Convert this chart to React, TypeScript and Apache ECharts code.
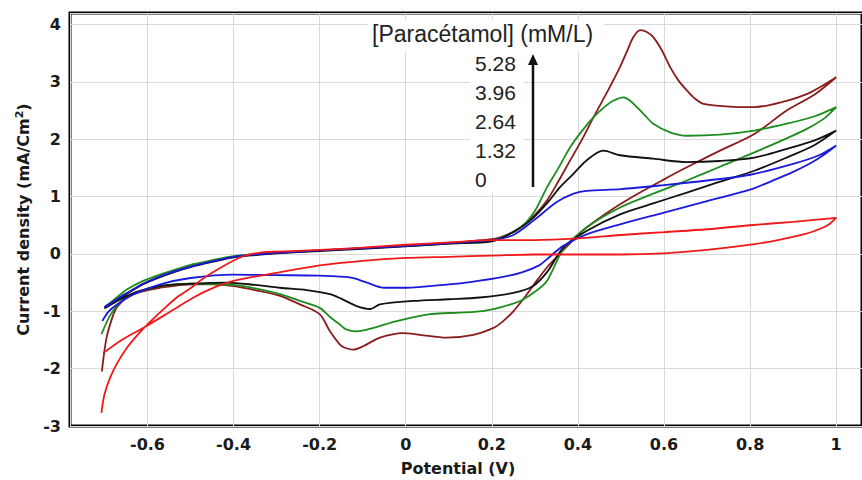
import React, { useEffect, useRef } from "react";
import * as echarts from "echarts";

// Cyclic voltammograms: [potential (V), current density (mA/cm²)], forward scan then reverse scan
const cv0: number[][] = [
  [-0.707, -2.77], [-0.7, -2.45], [-0.687, -2.16], [-0.67, -1.9], [-0.648, -1.64], [-0.625, -1.43],
  [-0.6, -1.23], [-0.565, -0.98], [-0.532, -0.76], [-0.5, -0.6], [-0.478, -0.47], [-0.45, -0.33],
  [-0.416, -0.18], [-0.39, -0.08], [-0.37, -0.02], [-0.33, 0.03], [-0.3, 0.04], [-0.2, 0.07],
  [-0.1, 0.11], [0, 0.16], [0.1, 0.2], [0.2, 0.24], [0.3, 0.24], [0.4, 0.27], [0.5, 0.33],
  [0.6, 0.38], [0.7, 0.43], [0.8, 0.5], [0.9, 0.56], [1.0, 0.63],
  [0.98, 0.5], [0.95, 0.4], [0.924, 0.34], [0.87, 0.25], [0.81, 0.17], [0.7, 0.07], [0.6, 0.01],
  [0.5, -0.01], [0.4, -0.01], [0.3, -0.01], [0.2, -0.03], [0.1, -0.05], [0, -0.07], [-0.1, -0.12],
  [-0.2, -0.2], [-0.3, -0.33], [-0.4, -0.47], [-0.45, -0.6], [-0.493, -0.76], [-0.55, -1.02],
  [-0.61, -1.29], [-0.66, -1.5], [-0.703, -1.73],
];

const cv132: number[][] = [
  [-0.7, -0.93], [-0.685, -0.86], [-0.665, -0.76], [-0.64, -0.65], [-0.61, -0.52], [-0.58, -0.42],
  [-0.54, -0.31], [-0.5, -0.22], [-0.45, -0.13], [-0.4, -0.05], [-0.35, -0.01], [-0.3, 0.02],
  [-0.2, 0.06], [-0.1, 0.1], [0, 0.14], [0.1, 0.19], [0.2, 0.24], [0.25, 0.33], [0.3, 0.6],
  [0.35, 0.9], [0.39, 1.05], [0.42, 1.1], [0.5, 1.13], [0.6, 1.2], [0.7, 1.28], [0.8, 1.38],
  [0.9, 1.57], [0.96, 1.72], [1.0, 1.89],
  [0.97, 1.72], [0.94, 1.58], [0.9, 1.43], [0.85, 1.27], [0.8, 1.12], [0.7, 0.92], [0.6, 0.72],
  [0.5, 0.52], [0.42, 0.34], [0.366, 0.14], [0.33, -0.08], [0.31, -0.2], [0.27, -0.32], [0.22, -0.41],
  [0.15, -0.49], [0.1, -0.53], [0, -0.59], [-0.05, -0.59], [-0.09, -0.5], [-0.13, -0.41],
  [-0.2, -0.38], [-0.3, -0.37], [-0.4, -0.36], [-0.5, -0.42], [-0.57, -0.53], [-0.625, -0.68],
  [-0.665, -0.85], [-0.69, -1.0], [-0.705, -1.17],
];

const cv264: number[][] = [
  [-0.7, -0.93], [-0.685, -0.86], [-0.665, -0.77], [-0.64, -0.66], [-0.61, -0.53], [-0.58, -0.43],
  [-0.54, -0.32], [-0.5, -0.23], [-0.45, -0.14], [-0.4, -0.06], [-0.35, -0.02], [-0.3, 0.01],
  [-0.2, 0.05], [-0.1, 0.09], [0, 0.13], [0.1, 0.18], [0.2, 0.22], [0.25, 0.38], [0.289, 0.58],
  [0.33, 0.9], [0.358, 1.16], [0.39, 1.4], [0.42, 1.63], [0.459, 1.8], [0.498, 1.72],
  [0.575, 1.66], [0.653, 1.6], [0.73, 1.62], [0.81, 1.68], [0.885, 1.83], [0.95, 1.98], [1.0, 2.15],
  [0.95, 1.9], [0.885, 1.68], [0.81, 1.45], [0.73, 1.26], [0.653, 1.07], [0.575, 0.88],
  [0.498, 0.69], [0.42, 0.4], [0.366, 0.11], [0.33, -0.3], [0.296, -0.56], [0.25, -0.68],
  [0.172, -0.76], [0.1, -0.79], [0.018, -0.82], [-0.06, -0.88], [-0.083, -0.96], [-0.114, -0.91],
  [-0.15, -0.78], [-0.176, -0.7], [-0.23, -0.63], [-0.292, -0.59], [-0.35, -0.54], [-0.416, -0.5],
  [-0.5, -0.52], [-0.571, -0.56], [-0.62, -0.65], [-0.66, -0.78], [-0.7, -0.95],
];

const cv396: number[][] = [
  [-0.7, -0.93], [-0.685, -0.84], [-0.665, -0.72], [-0.648, -0.62], [-0.61, -0.47], [-0.571, -0.36],
  [-0.53, -0.26], [-0.494, -0.18], [-0.45, -0.11], [-0.4, -0.04], [-0.3, 0.02], [-0.2, 0.06],
  [-0.1, 0.1], [0, 0.14], [0.1, 0.18], [0.2, 0.23], [0.266, 0.46], [0.3, 0.75], [0.328, 1.16],
  [0.355, 1.5], [0.382, 1.86], [0.41, 2.15], [0.436, 2.38], [0.46, 2.55], [0.482, 2.67],
  [0.506, 2.73], [0.52, 2.68], [0.537, 2.56], [0.555, 2.42], [0.575, 2.27], [0.614, 2.12],
  [0.653, 2.06], [0.73, 2.08], [0.81, 2.15], [0.885, 2.27], [0.95, 2.4], [1.0, 2.56],
  [0.97, 2.35], [0.924, 2.15], [0.81, 1.77], [0.73, 1.52], [0.653, 1.28], [0.575, 1.05],
  [0.498, 0.81], [0.42, 0.46], [0.366, 0.08], [0.328, -0.47], [0.3, -0.66], [0.266, -0.82],
  [0.22, -0.93], [0.172, -1.0], [0.1, -1.03], [0.056, -1.05], [-0.021, -1.17], [-0.075, -1.29],
  [-0.114, -1.35], [-0.14, -1.31], [-0.153, -1.23], [-0.176, -1.1], [-0.2, -0.94], [-0.246, -0.82],
  [-0.292, -0.7], [-0.35, -0.6], [-0.4, -0.54], [-0.5, -0.52], [-0.57, -0.56], [-0.62, -0.66],
  [-0.66, -0.82], [-0.685, -1.05], [-0.707, -1.4],
];

const cv528: number[][] = [
  [-0.7, -0.93], [-0.685, -0.86], [-0.665, -0.76], [-0.64, -0.65], [-0.61, -0.52], [-0.58, -0.42],
  [-0.54, -0.31], [-0.5, -0.22], [-0.45, -0.13], [-0.4, -0.05], [-0.35, -0.01], [-0.3, 0.02],
  [-0.2, 0.06], [-0.1, 0.1], [0, 0.14], [0.1, 0.19], [0.204, 0.26], [0.24, 0.35], [0.266, 0.46],
  [0.3, 0.68], [0.328, 0.93], [0.355, 1.27], [0.382, 1.63], [0.41, 2.0], [0.436, 2.38],
  [0.47, 2.85], [0.498, 3.26], [0.515, 3.55], [0.529, 3.78], [0.545, 3.9], [0.56, 3.87],
  [0.575, 3.78], [0.595, 3.55], [0.614, 3.26], [0.633, 3.03], [0.653, 2.85], [0.67, 2.72],
  [0.69, 2.62], [0.73, 2.58], [0.77, 2.56], [0.81, 2.56], [0.885, 2.67], [0.93, 2.78],
  [0.963, 2.91], [1.0, 3.08],
  [0.95, 2.78], [0.885, 2.5], [0.81, 2.09], [0.73, 1.8], [0.653, 1.51], [0.6, 1.3], [0.537, 1.04],
  [0.48, 0.78], [0.42, 0.46], [0.39, 0.25], [0.358, 0.0], [0.33, -0.22], [0.304, -0.47],
  [0.28, -0.72], [0.25, -1.0], [0.225, -1.18], [0.204, -1.29], [0.157, -1.41], [0.095, -1.46],
  [0.033, -1.41], [-0.006, -1.38], [-0.06, -1.46], [-0.099, -1.61], [-0.122, -1.67], [-0.14, -1.64],
  [-0.153, -1.58], [-0.176, -1.35], [-0.2, -1.05], [-0.246, -0.88], [-0.292, -0.73], [-0.35, -0.63],
  [-0.4, -0.56], [-0.45, -0.53], [-0.494, -0.53], [-0.571, -0.59], [-0.62, -0.67], [-0.648, -0.76],
  [-0.67, -0.92], [-0.679, -1.05], [-0.695, -1.46], [-0.706, -2.05],
];

const concentrations = ["5.28", "3.96", "2.64", "1.32", "0"];
const curves = [cv528, cv396, cv264, cv132, cv0];
const curveColors = ["#8a1c1c", "#1e8c1e", "#111111", "#1a1adc", "#f01818"];

const annotationTitle = "[Paracétamol] (mM/L)";
const xAxisTitle = "Potential (V)";

export default function App() {
  const ref = useRef<HTMLDivElement>(null);

  useEffect(() => {
    if (!ref.current) return;
    const chart = echarts.init(ref.current, null, { renderer: "svg" });

    const tickFont = {
      fontFamily: "DejaVu Sans",
      fontWeight: "bold" as const,
      fontSize: 16,
      color: "#1a1a1a",
    };

    const graphics: any[] = [
      {
        type: "rect",
        z: 1,
        shape: { x: 368, y: 20, width: 236, height: 31 },
        style: { fill: "#fff" },
      },
      {
        type: "rect",
        z: 1,
        shape: { x: 470, y: 51, width: 54, height: 142 },
        style: { fill: "#fff" },
      },
      {
        type: "text",
        z: 10,
        left: 372,
        top: 22,
        style: {
          text: annotationTitle,
          font: "23px 'Liberation Sans', Arial, sans-serif",
          fill: "#222",
        },
      },
      ...concentrations.map((c, i) => ({
        type: "text",
        z: 10,
        left: 475,
        top: 53 + i * 29,
        style: {
          text: c,
          font: "21px 'Liberation Sans', Arial, sans-serif",
          fill: "#222",
        },
      })),
      {
        type: "line",
        z: 10,
        shape: { x1: 533, y1: 187, x2: 533, y2: 62 },
        style: { stroke: "#111", lineWidth: 2.5 },
      },
      {
        type: "polygon",
        z: 10,
        shape: { points: [[533, 54], [528, 65], [538, 65]] },
        style: { fill: "#111" },
      },
    ];

    chart.setOption({
      animation: false,
      backgroundColor: "#fff",
      grid: {
        show: true,
        left: 70,
        top: 13,
        right: 0,
        bottom: 54,
        outerBoundsMode: "none",
        containLabel: false,
        borderColor: "#000",
        borderWidth: 3,
        backgroundColor: "transparent",
      },
      xAxis: {
        type: "value",
        min: -0.78,
        max: 1.06,
        splitNumber: 9,
        minInterval: 0.2,
        maxInterval: 0.2,
        axisLine: { show: false },
        axisTick: { show: false },
        splitLine: { show: true, lineStyle: { color: "#d9d9d9", width: 1 } },
        axisLabel: {
          ...tickFont,
          margin: 10,
          formatter: (v: number) => {
            const r = Math.round(v * 5) / 5;
            if (Math.abs(v - r) > 1e-6) return "";
            return String(+r.toFixed(1));
          },
        },
        name: xAxisTitle,
        nameLocation: "middle",
        nameGap: 34,
        nameTextStyle: {
          fontFamily: "DejaVu Sans",
          fontWeight: "bold",
          fontSize: 16,
          color: "#1a1a1a",
          padding: [0, 16, 0, 0],
        },
      },
      yAxis: {
        type: "value",
        min: -3,
        max: 4.2,
        interval: 1,
        axisLine: { show: false },
        axisTick: { show: false },
        splitLine: { show: true, lineStyle: { color: "#d9d9d9", width: 1 } },
        axisLabel: {
          ...tickFont,
          margin: 9,
          formatter: (v: number) =>
            Math.abs(v - Math.round(v)) < 1e-6 ? String(Math.round(v)) : "",
        },
        name: "Current density (mA/Cm{sup|2})",
        nameLocation: "middle",
        nameGap: 37,
        nameTextStyle: {
          fontFamily: "DejaVu Sans",
          fontWeight: "bold",
          fontSize: 16,
          color: "#1a1a1a",
          rich: {
            sup: {
              fontFamily: "DejaVu Sans",
              fontWeight: "bold",
              fontSize: 11,
              color: "#1a1a1a",
              verticalAlign: "top",
              padding: [0, 0, 8, 0],
            },
          },
        },
      },
      series: curves.map((d, i) => ({
        type: "line",
        name: concentrations[i],
        data: d,
        showSymbol: false,
        symbol: "none",
        smooth: 0.3,
        z: 2 + i,
        lineStyle: { color: curveColors[i], width: 1.8 },
      })),
      graphic: graphics,
    });

    return () => chart.dispose();
  }, []);

  return (
    <div
      ref={ref}
      style={{ position: "absolute", left: 0, top: 0, width: 862, height: 480 }}
    />
  );
}
